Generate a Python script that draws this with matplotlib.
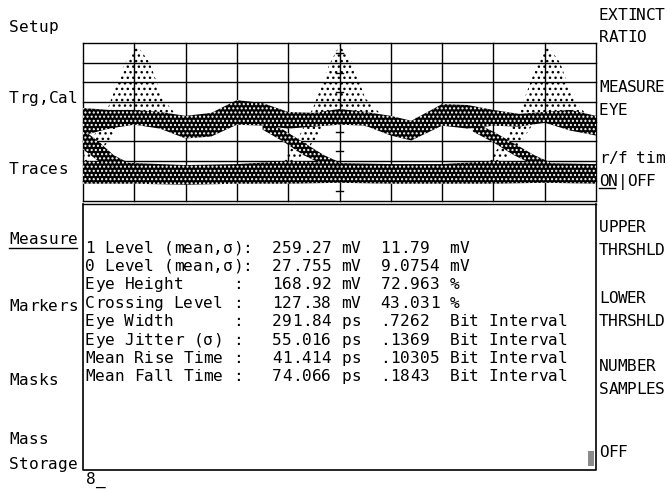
import matplotlib
matplotlib.use("Agg")
import matplotlib.pyplot as plt

plt.rcParams['hatch.linewidth'] = 1.0

W, H, DPI = 667, 490, 100
FONT = 'DejaVu Sans Mono'
FS = 11.6
CW = 9.85   # character pitch of the measurement text, px
CW_KEY = 9.3  # pitch of the right softkey labels, px

# softkey labels
left_keys = ["Setup", "Trg,Cal", "Traces", "Measure", "Markers", "Masks", "Mass", "Storage"]
left_key_y = [26, 97, 168, 238, 305, 379, 438, 463]
right_keys = ["EXTINCT", "RATIO", "MEASURE", "EYE", "r/f tim", "ON|OFF",
              "UPPER", "THRSHLD", "LOWER", "THRSHLD", "NUMBER", "SAMPLES", "OFF"]
right_key_y = [14, 37, 86, 109, 157, 180, 226, 249, 297, 320, 365, 388, 451]

# measurement table
meas_names = ["1 Level (mean,σ)", "0 Level (mean,σ)", "Eye Height", "Crossing Level",
              "Eye Width", "Eye Jitter (σ)", "Mean Rise Time", "Mean Fall Time"]
colon_col = [16, 16, 15, 15, 15, 15, 15, 15]
meas_value = ["259.27", "27.755", "168.92", "127.38", "291.84", "55.016", "41.414", "74.066"]
meas_unit = ["mV", "mV", "mV", "mV", "ps", "ps", "ps", "ps"]
meas_value2 = ["11.79", "9.0754", "72.963", "43.031", ".7262", ".1369", ".10305", ".1843"]
meas_unit2 = ["mV", "mV", "%", "%", "Bit Interval", "Bit Interval", "Bit Interval", "Bit Interval"]

# eye diagram, in screen divisions (10 x 8)
ub_x = [0.0, 0.5, 1.0, 1.5, 2.0, 2.5, 3.0, 3.5, 4.0, 4.5, 5.0, 5.5, 6.0, 6.4, 7.0, 7.5, 8.0, 8.5, 9.0, 9.5, 10.0]
ub_top = [4.7, 4.6, 4.6, 4.5, 4.3, 4.45, 5.1, 4.95, 4.5, 4.45, 4.65, 4.5, 4.3, 4.05, 4.9, 4.85, 4.6, 4.4, 4.5, 4.6, 4.3]
ub_bot = [3.3, 3.65, 3.85, 3.65, 3.15, 3.25, 3.85, 3.8, 3.65, 3.75, 3.85, 3.8, 3.3, 3.05, 3.8, 3.65, 3.8, 3.75, 3.95, 3.55, 3.3]

lb_x = [0, 1, 2, 3, 4, 5, 6, 7, 8, 9, 10]
lb_top = [2.0, 1.9, 1.8, 1.85, 2.0, 1.9, 1.85, 1.85, 2.0, 1.9, 1.85]
lb_bot = [0.85, 0.85, 0.8, 0.85, 0.85, 0.9, 0.85, 0.85, 0.85, 0.9, 0.85]

fall1_x = [0.0, 0.3, 0.6, 0.9]
fall1_top = [3.6, 3.0, 2.3, 1.9]
fall1_bot = [2.6, 2.0, 1.7, 1.6]
fall2_x = [3.5, 3.9, 4.3, 4.7, 5.0]
fall2_top = [4.0, 3.6, 2.95, 2.3, 1.95]
fall2_bot = [3.6, 3.0, 2.3, 1.8, 1.7]
fall3_x = [7.6, 8.0, 8.4, 8.8, 9.1]
fall3_top = [4.0, 3.5, 2.9, 2.3, 1.95]
fall3_bot = [3.5, 2.95, 2.3, 1.8, 1.7]

spike1_x = [-0.1, 0.2, 0.5, 0.8, 1.05, 1.3, 1.55, 1.8]
spike1_top = [2.0, 3.2, 4.8, 6.9, 7.9, 7.0, 5.2, 4.4]
spike1_bot = [1.9, 2.1, 3.0, 4.2, 4.3, 4.3, 4.2, 4.2]
spike2_x = [3.9, 4.2, 4.5, 4.8, 5.0, 5.25, 5.5, 5.8]
spike2_top = [2.0, 3.2, 4.8, 6.9, 7.9, 7.0, 5.2, 4.4]
spike2_bot = [1.9, 2.1, 3.0, 4.2, 4.3, 4.3, 4.2, 4.2]
spike3_x = [7.9, 8.25, 8.55, 8.85, 9.05, 9.3, 9.55, 9.8]
spike3_top = [2.0, 3.2, 4.8, 6.9, 7.9, 7.0, 5.2, 4.4]
spike3_bot = [1.9, 2.1, 3.0, 4.2, 4.3, 4.3, 4.2, 4.2]

# screen geometry (px)
GX0, GX1, GY0, GY1 = 83, 596, 43, 200.5
BOX_TOP, BOX_BOT = 203.5, 470

fig = plt.figure(figsize=(W / DPI, H / DPI), dpi=DPI)
fig.patch.set_facecolor('white')

# ---- eye diagram graticule ----
ax = fig.add_axes([GX0 / W, 1 - GY1 / H, (GX1 - GX0) / W, (GY1 - GY0) / H])
ax.set_xlim(0, 10)
ax.set_ylim(0, 8)
ax.axis('off')

for i in range(11):
    ax.axvline(i, color='black', lw=1.0, zorder=1, clip_on=False)
for j in range(9):
    ax.axhline(j, color='black', lw=1.0, zorder=1, clip_on=False)
for k in range(8):
    ax.plot([4.93, 5.07], [k + 0.5, k + 0.5], color='black', lw=1.0, zorder=1)
for k in range(10):
    ax.plot([k + 0.5, k + 0.5], [3.82, 4.18], color='black', lw=1.0, zorder=1)

# sparse overshoot / rising edge samples
for xs, top, bot in [(spike1_x, spike1_top, spike1_bot),
                     (spike2_x, spike2_top, spike2_bot),
                     (spike3_x, spike3_top, spike3_bot)]:
    ax.fill_between(xs, bot, top, facecolor='none', edgecolor='black',
                    hatch='...', lw=0, zorder=2)

# dense sample bands
for xs, top, bot in [(ub_x, ub_top, ub_bot), (lb_x, lb_top, lb_bot),
                     (fall1_x, fall1_top, fall1_bot), (fall2_x, fall2_top, fall2_bot),
                     (fall3_x, fall3_top, fall3_bot)]:
    ax.fill_between(xs, bot, top, facecolor='black', edgecolor='white',
                    hatch='....', lw=0, zorder=3)

# ---- overlay in pixel coordinates for frame and text ----
ov = fig.add_axes([0, 0, 1, 1], zorder=5)
ov.set_xlim(0, W)
ov.set_ylim(H, 0)
ov.axis('off')
ov.patch.set_alpha(0)

ov.plot([GX0, GX1], [BOX_TOP, BOX_TOP], color='black', lw=1.0)
ov.plot([GX0, GX0, GX1, GX1], [BOX_TOP, BOX_BOT, BOX_BOT, BOX_TOP], color='black', lw=1.2)
ov.add_patch(plt.Rectangle((588, 451), 6, 15, facecolor='#8a8a8a', edgecolor='none'))


def put(x, y, s, pitch=CW):
    # one glyph per character cell, like the instrument's fixed text grid
    for n, ch in enumerate(s):
        if ch != ' ':
            ov.text(x + n * pitch, y + 5.5, ch, fontfamily=FONT, fontsize=FS,
                    ha='left', va='baseline', color='black')


for s, y in zip(left_keys, left_key_y):
    put(9, y, s)
ov.plot([9, 77], [248, 248], color='black', lw=1.0)

for s, y in zip(right_keys, right_key_y):
    put(599, y, s, pitch=CW_KEY)
ov.plot([599, 615], [188, 188], color='black', lw=1.0)

ROW0, ROWSTEP = 247, 18.4
for i in range(len(meas_names)):
    y = ROW0 + i * ROWSTEP
    put(GX0 + 2, y, meas_names[i])
    put(GX0 + 2 + colon_col[i] * CW, y, ":")
    put(GX0 + 2 + 19 * CW, y, meas_value[i])
    put(GX0 + 2 + 26 * CW, y, meas_unit[i])
    put(GX0 + 2 + 30 * CW, y, meas_value2[i])
    put(GX0 + 2 + 37 * CW, y, meas_unit2[i])

put(86, 478, "8_")

fig.savefig('out.png', dpi=DPI, facecolor='white')
